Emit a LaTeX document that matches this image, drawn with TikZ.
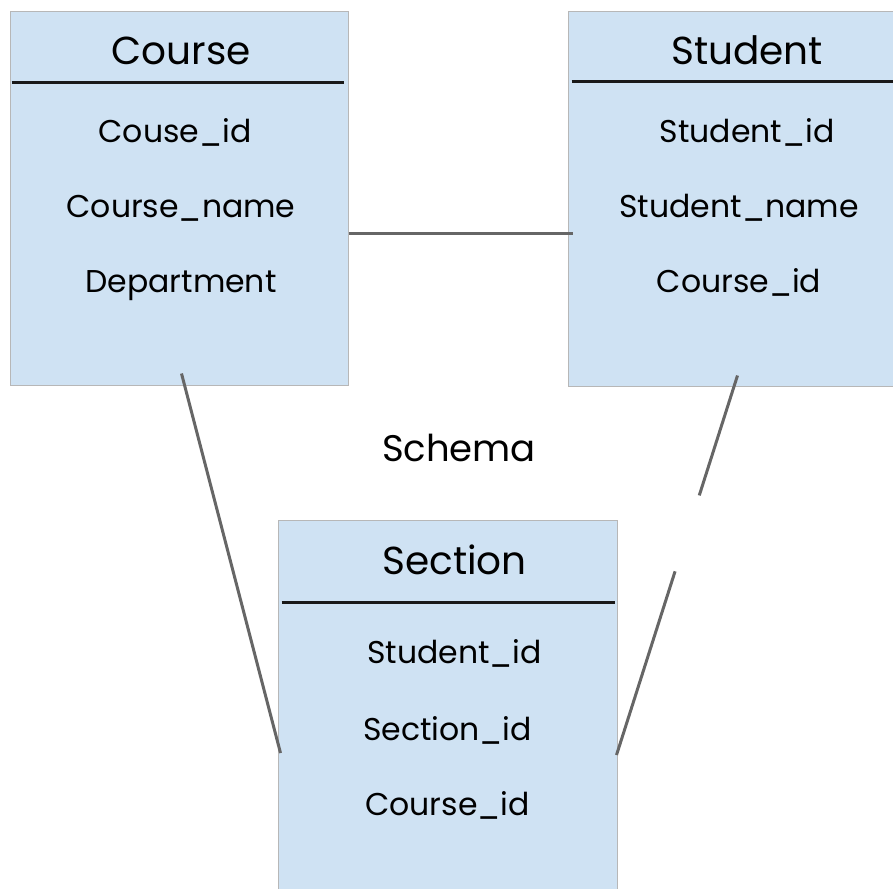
\documentclass[tikz,border=0pt]{standalone}
\usepackage{fontspec}
\setmainfont{Poppins}
\usetikzlibrary{positioning,calc}

\definecolor{boxblue}{HTML}{CFE2F3}
\definecolor{boxedge}{HTML}{B7B7B7}
\definecolor{linkgray}{HTML}{666666}

\tikzset{
  table/.style={draw=boxedge,line width=1pt,fill=boxblue,rectangle,inner sep=0pt},
  title/.style={inner sep=0pt,text height=28pt,text depth=8pt,font=\fontsize{39}{44}\selectfont},
  field/.style={inner sep=0pt,text height=24pt,text depth=8pt,font=\fontsize{31.5}{36}\selectfont},
  rule/.style={draw=black!90,line width=2.6pt},
  link/.style={draw=linkgray,line width=3pt}
}

\begin{document}
\begin{tikzpicture}[x=1pt,y=-1pt]
	\useasboundingbox (0,0) rectangle (893,888);
	% tables
	\node[table, minimum width=338pt, minimum height=373pt] (course) at (179,198.5) {};
	\node[table, minimum width=328pt, minimum height=374pt] (student) at (732,199) {};
	\node[table, minimum width=339pt, minimum height=371pt] (section) at (447.5,705.5) {};
	% Course
	\node[title, below = 25pt of course.north, xshift=2pt](coursetitle){Course};
	\node[field, below = 45pt of coursetitle, xshift=-6pt](cid){Couse\_id};
	\node[field, below = 43pt of cid, xshift=6pt](cname){Course\_name};
	\node[field, below = 43pt of cname](cdept){Department};
	% Student
	\node[title, below = 25pt of student.north, xshift=15pt](studenttitle){Student};
	\node[field, below = 45pt of studenttitle](sid){Student\_id};
	\node[field, below = 43pt of sid, xshift=-8pt](sname){Student\_name};
	\node[field, below = 43pt of sname](scid){Course\_id};
	% Section
	\node[title, below = 27pt of section.north, xshift=7pt](sectiontitle){Section};
	\node[field, below = 56pt of sectiontitle](xsid){Student\_id};
	\node[field, below = 45pt of xsid, xshift=-7pt](xsecid){Section\_id};
	\node[field, below = 43pt of xsecid](xcid){Course\_id};
	\node[title, font=\fontsize{37}{42}\selectfont] (schema) at (459,451) {Schema};
	% header rules
	\draw[rule] ([xshift=2pt,yshift=-71pt]course.north west) -- ([xshift=-5pt,yshift=-71pt]course.north east);
	\draw[rule] ([xshift=4pt,yshift=-70pt]student.north west) -- ([yshift=-70pt]student.north east);
	\draw[rule] ([xshift=4pt,yshift=-83pt]section.north west) -- ([xshift=-3pt,yshift=-83pt]section.north east);
	% links
	\draw[link] ([yshift=-34.5pt]course.east) -- ([xshift=5pt,yshift=-34pt]student.west);
	\draw[link] ([xshift=172pt,yshift=12pt]course.south west) -- ([xshift=3pt,yshift=-47.5pt]section.west);
	\coordinate (st1) at ([xshift=170pt,yshift=11pt]student.south west);
	\coordinate (st2) at ([xshift=-1pt,yshift=-49.5pt]section.east);
	\draw[link] (st1) -- ($(st1)!0.316!(st2)$) ($(st1)!0.516!(st2)$) -- (st2);
\end{tikzpicture}
\end{document}
